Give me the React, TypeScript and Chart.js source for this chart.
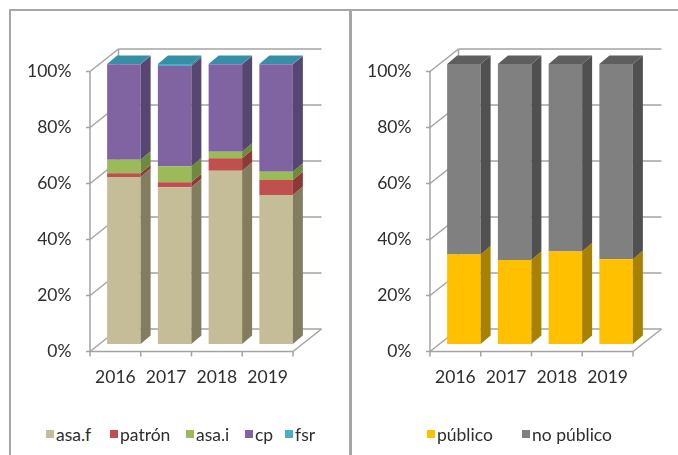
import React, { useEffect, useRef } from "react";
import { Chart, registerables } from "chart.js";

Chart.register(...registerables);

// ---------- data ----------
const years = ["2016", "2017", "2018", "2019"];
const asaF = [59.6, 56.0, 61.9, 53.2];
const patron = [1.4, 1.8, 4.4, 5.4];
const asaI = [4.8, 5.6, 2.4, 2.9];
const cp = [34.1, 35.9, 31.2, 38.4];
const fsr = [0.1, 0.7, 0.1, 0.1];
const publico = [32.0, 30.0, 33.0, 30.3];
const noPublico = [68.0, 70.0, 67.0, 69.7];
const yTickStep = 20;

// ---------- styles ----------
const FONT = "Lato, 'Open Sans', sans-serif";
const TEXT = "#2E2E2E";
const GRID = "#A3A3A3";
const FRONT = { dx: -8.5, dy: 7.5 }; // front axis plane offset from bar plane
const BACK = { dx: 20, dy: -15 }; // back wall offset from bar plane
const DEPTH = { dx: 10, dy: -8.5 }; // bar depth

type Series = { label: string; data: number[]; front: string; side: string };

const leftSeries: Series[] = [
  { label: "asa.f", data: asaF, front: "#C4BD97", side: "#837D60" },
  { label: "patrón", data: patron, front: "#C0504D", side: "#8C3A38" },
  { label: "asa.i", data: asaI, front: "#9BBB59", side: "#6E8A3E" },
  { label: "cp", data: cp, front: "#8064A2", side: "#584672" },
  { label: "fsr", data: fsr, front: "#4BACC6", side: "#2F7D92" },
];
const rightSeries: Series[] = [
  { label: "público", data: publico, front: "#FFC000", side: "#A98100" },
  { label: "no público", data: noPublico, front: "#808080", side: "#505050" },
];

function make3D(sides: string[], topColor: string) {
  return {
    id: "threeD",
    beforeDatasetsDraw(chart: any) {
      const { ctx, chartArea: a, scales } = chart;
      const x = scales.x;
      const y = scales.y;
      ctx.save();
      ctx.strokeStyle = GRID;
      ctx.lineWidth = 1.5;
      const line = (x1: number, y1: number, x2: number, y2: number) => {
        ctx.beginPath();
        ctx.moveTo(x1, y1);
        ctx.lineTo(x2, y2);
        ctx.stroke();
      };
      const y0 = y.getPixelForValue(0);
      const yTop = y.getPixelForValue(y.max);
      line(a.left + BACK.dx, y0 + BACK.dy, a.left + BACK.dx, yTop + BACK.dy);
      line(a.left + FRONT.dx, y0 + FRONT.dy, a.left + FRONT.dx, yTop + FRONT.dy);
      y.ticks.forEach((t: any) => {
        const py = y.getPixelForValue(t.value);
        line(a.left + FRONT.dx, py + FRONT.dy, a.left + BACK.dx, py + BACK.dy);
        line(a.left + BACK.dx, py + BACK.dy, a.right + BACK.dx, py + BACK.dy);
        line(a.left + FRONT.dx - 4, py + FRONT.dy, a.left + FRONT.dx, py + FRONT.dy);
      });
      line(a.left + FRONT.dx, y0 + FRONT.dy, a.right + FRONT.dx, y0 + FRONT.dy);
      line(a.right + FRONT.dx, y0 + FRONT.dy, a.right + BACK.dx, y0 + BACK.dy);
      const n = x.ticks.length;
      const band = (a.right - a.left) / n;
      for (let i = 0; i <= n; i++) {
        const px = (i < n ? x.getPixelForValue(i) - band / 2 : x.getPixelForValue(n - 1) + band / 2) + FRONT.dx;
        line(px, y0 + FRONT.dy, px, y0 + FRONT.dy + 5);
      }
      ctx.restore();
    },
    afterDatasetsDraw(chart: any) {
      const { ctx } = chart;
      const metas = chart.data.datasets.map((_: any, i: number) => chart.getDatasetMeta(i));
      const count = chart.data.labels.length;
      ctx.save();
      for (let j = 0; j < count; j++) {
        let top: any = null;
        metas.forEach((m: any, di: number) => {
          const el = m.data[j];
          if (!el) return;
          const p = el.getProps(["x", "y", "base", "width"], true);
          if (Math.abs(p.base - p.y) < 0.01) return;
          const L = p.x - p.width / 2;
          const R = p.x + p.width / 2;
          ctx.fillStyle = sides[di];
          ctx.beginPath();
          ctx.moveTo(R, p.y);
          ctx.lineTo(R + DEPTH.dx, p.y + DEPTH.dy);
          ctx.lineTo(R + DEPTH.dx, p.base + DEPTH.dy);
          ctx.lineTo(R, p.base);
          ctx.closePath();
          ctx.fill();
          top = { L, R, t: Math.min(p.y, p.base) };
        });
        if (top) {
          ctx.fillStyle = topColor;
          ctx.beginPath();
          ctx.moveTo(top.L, top.t);
          ctx.lineTo(top.L + DEPTH.dx, top.t + DEPTH.dy);
          ctx.lineTo(top.R + DEPTH.dx, top.t + DEPTH.dy);
          ctx.lineTo(top.R, top.t);
          ctx.closePath();
          ctx.fill();
        }
      }
      ctx.restore();
    },
  };
}

function makeConfig(series: Series[], topColor: string, axisWidth: number, padRight: number, height: number) {
  return {
    type: "bar" as const,
    data: {
      labels: years,
      datasets: series.map((s) => ({
        label: s.label,
        data: s.data,
        backgroundColor: s.front,
        borderWidth: 0,
        barPercentage: 0.66,
        categoryPercentage: 1,
      })),
    },
    options: {
      responsive: false,
      animation: false,
      layout: { padding: { left: 0, right: padRight, top: 64, bottom: 0 } },
      plugins: { legend: { display: false }, tooltip: { enabled: false } },
      scales: {
        x: {
          stacked: true,
          grid: { display: false, drawTicks: false },
          border: { display: false },
          ticks: {
            font: { family: FONT, size: 17.5 },
            color: TEXT,
            padding: 22.5,
            labelOffset: FRONT.dx,
            maxRotation: 0,
            autoSkip: false,
          },
          afterFit: (s: any) => {
            s.height = height - 344;
          },
        },
        y: {
          stacked: true,
          min: 0,
          max: 100,
          grid: { display: false, drawTicks: false },
          border: { display: false },
          ticks: {
            stepSize: yTickStep,
            callback: (v: any) => v + "%",
            font: { family: FONT, size: 17.5 },
            color: TEXT,
            padding: 27,
            labelOffset: FRONT.dy,
          },
          afterFit: (s: any) => {
            s.width = axisWidth;
          },
        },
      },
    },
    plugins: [make3D(series.map((s) => s.side), topColor)],
  };
}

function ChartCanvas(props: { config: any; left: number; width: number; height: number }) {
  const ref = useRef<HTMLCanvasElement | null>(null);
  useEffect(() => {
    if (!ref.current) return;
    const c = new Chart(ref.current, props.config);
    return () => c.destroy();
  }, []);
  return (
    <canvas
      ref={ref}
      width={props.width}
      height={props.height}
      style={{ position: "absolute", left: props.left, top: 0, width: props.width, height: props.height, display: "block" }}
    />
  );
}

function Legend(props: { series: Series[]; lefts: number[] }) {
  return (
    <>
      {props.series.map((s, i) => (
        <div
          key={s.label}
          style={{
            position: "absolute",
            left: props.lefts[i],
            top: 424,
            height: 20,
            display: "flex",
            alignItems: "center",
            fontFamily: FONT,
            fontSize: 17.5,
            color: TEXT,
            whiteSpace: "nowrap",
          }}
        >
          <span style={{ display: "inline-block", width: 8, height: 8, background: s.front, marginRight: 2 }} />
          <span>{s.label}</span>
        </div>
      ))}
    </>
  );
}

export default function App() {
  const H = 400;
  const leftCfg = makeConfig(leftSeries, "#3590A6", 98.5, 48.5, H);
  const rightCfg = makeConfig(rightSeries, "#5E5E5E", 88.5, 36.5, H);
  return (
    <div style={{ position: "absolute", left: 0, top: 0, width: 678, height: 455, background: "#fff", overflow: "hidden" }}>
      <ChartCanvas config={leftCfg} left={0} width={350} height={H} />
      <ChartCanvas config={rightCfg} left={350} width={328} height={H} />
      <div style={{ position: "absolute", left: 10, top: 9, width: 668, height: 2, background: "#A6A6A6" }} />
      <div style={{ position: "absolute", left: 9, top: 9, width: 2, height: 446, background: "#A6A6A6" }} />
      <div style={{ position: "absolute", left: 349, top: 9, width: 3, height: 446, background: "#A6A6A6" }} />
      <Legend series={leftSeries} lefts={[46, 110, 186, 245, 285]} />
      <Legend series={rightSeries} lefts={[427, 522]} />
    </div>
  );
}
